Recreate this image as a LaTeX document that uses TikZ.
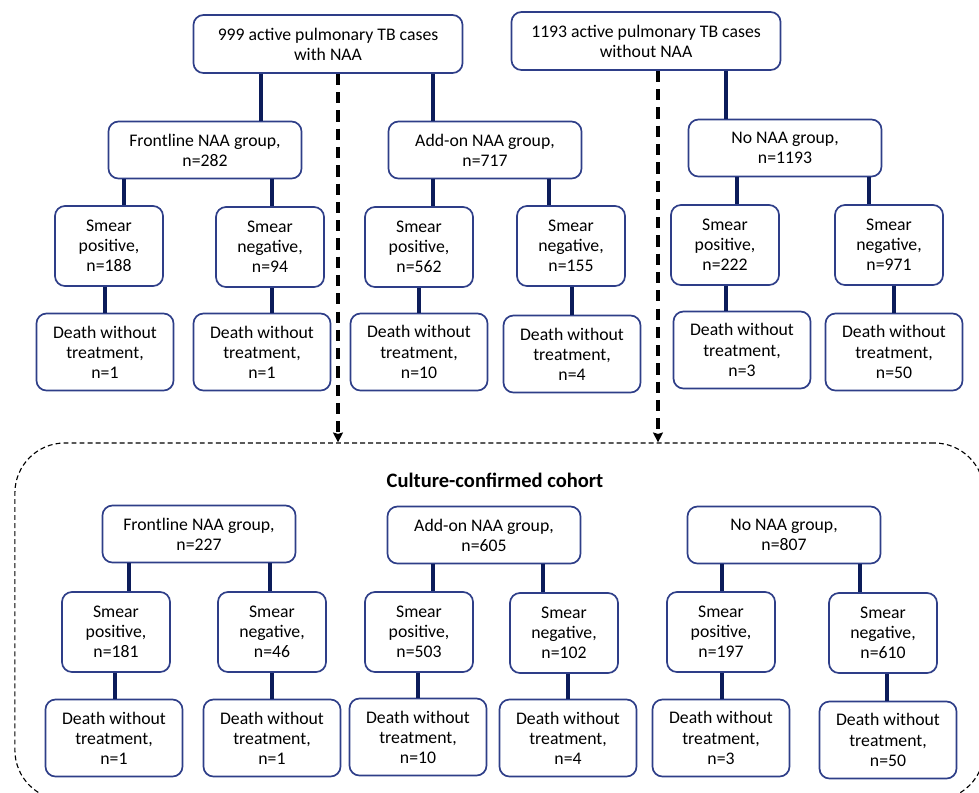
\documentclass[tikz,border=0pt]{standalone}
\usepackage{fontspec}
\setmainfont{Carlito}
\usetikzlibrary{arrows.meta}
\definecolor{boxline}{RGB}{46,62,136}
\definecolor{linkline}{RGB}{12,28,90}

\begin{document}
\begin{tikzpicture}[x=0.025cm, y=-0.025cm]
% Define styles
\tikzset{
    box/.style={rectangle, rounded corners=0.25cm, draw=boxline, line width=1.2pt, align=center, inner sep=0pt, font=\fontsize{12.6}{14.3}\selectfont},
    topbox/.style={box, minimum width=6.725cm, minimum height=1.45cm},
    groupbox/.style={box, minimum width=4.825cm, minimum height=1.425cm},
    smearbox/.style={box, minimum width=2.7cm, minimum height=2cm},
    deathbox/.style={box, minimum width=3.425cm, minimum height=1.925cm},
    link/.style={draw=linkline, line width=2.4pt},
    flow/.style={draw=black, line width=2.2pt, dash pattern=on 8pt off 5pt, -{Stealth[length=7pt, width=7pt, inset=1pt]}},
    cohortbox/.style={rectangle, rounded corners=1.25cm, draw=black, line width=0.8pt, dash pattern=on 3.5pt off 2.2pt, minimum width=24.225cm, minimum height=8.925cm},
    title/.style={font=\bfseries\fontsize{14.6}{17}\selectfont}
}

\useasboundingbox (0,0) rectangle (979,792);

% Top boxes
\node[topbox] (top1) at (328, 44) {999 active pulmonary TB cases\\with NAA};
\node[topbox] (top2) at (646, 41) {1193 active pulmonary TB cases\\without NAA};

% Groups, all cases
\node[groupbox] (fl1) at (205, 150) {Frontline NAA group,\\n=282};
\node[groupbox] (ad1) at (485, 150) {Add-on NAA group,\\n=717};
\node[groupbox] (no1) at (785, 148) {No NAA group,\\n=1193};

% Smear, all cases
\node[smearbox] (sp1) at (109, 246) {Smear\\positive,\\n=188};
\node[smearbox] (sn1) at (270, 247) {Smear\\negative,\\n=94};
\node[smearbox] (sp2) at (419, 247) {Smear\\positive,\\n=562};
\node[smearbox] (sn2) at (571, 246) {Smear\\negative,\\n=155};
\node[smearbox] (sp3) at (725, 245) {Smear\\positive,\\n=222};
\node[smearbox] (sn3) at (889, 245) {Smear\\negative,\\n=971};

% Deaths, all cases
\node[deathbox] (d1) at (105, 352) {Death without\\treatment,\\n=1};
\node[deathbox] (d2) at (262, 352) {Death without\\treatment,\\n=1};
\node[deathbox] (d3) at (419, 352) {Death without\\treatment,\\n=10};
\node[deathbox] (d4) at (572, 354) {Death without\\treatment,\\n=4};
\node[deathbox] (d5) at (742, 350) {Death without\\treatment,\\n=3};
\node[deathbox] (d6) at (894, 352) {Death without\\treatment,\\n=50};

% Culture-confirmed cohort frame
\node[cohortbox] (cohort) at (499.5, 621.5) {};
\node[title] (cctitle) at (495, 480) {Culture-confirmed cohort};

% Groups, culture-confirmed
\node[groupbox] (fl2) at (199, 534) {Frontline NAA group,\\n=227};
\node[groupbox] (ad2) at (484, 535) {Add-on NAA group,\\n=605};
\node[groupbox] (no2) at (784, 535) {No NAA group,\\n=807};

% Smear, culture-confirmed
\node[smearbox] (sp1b) at (116, 632) {Smear\\positive,\\n=181};
\node[smearbox] (sn1b) at (272, 632) {Smear\\negative,\\n=46};
\node[smearbox] (sp2b) at (419, 632) {Smear\\positive,\\n=503};
\node[smearbox] (sn2b) at (564, 633) {Smear\\negative,\\n=102};
\node[smearbox] (sp3b) at (721, 632) {Smear\\positive,\\n=197};
\node[smearbox] (sn3b) at (883, 633) {Smear\\negative,\\n=610};

% Deaths, culture-confirmed
\node[deathbox] (d1b) at (114, 738) {Death without\\treatment,\\n=1};
\node[deathbox] (d2b) at (272, 738) {Death without\\treatment,\\n=1};
\node[deathbox] (d3b) at (418, 737) {Death without\\treatment,\\n=10};
\node[deathbox] (d4b) at (568, 738) {Death without\\treatment,\\n=4};
\node[deathbox] (d5b) at (721, 738) {Death without\\treatment,\\n=3};
\node[deathbox] (d6b) at (888, 740) {Death without\\treatment,\\n=50};

% Connectors (parent/child/x)
\foreach \a/\b/\x in {top1/fl1/261, top1/ad1/433, top2/no1/726,
    fl1/sp1/124, fl1/sn1/272, ad1/sp2/433, ad1/sn2/549, no1/sp3/737, no1/sn3/869,
    sp1/d1/105, sn1/d2/272, sp2/d3/419, sn2/d4/572, sp3/d5/726, sn3/d6/894,
    fl2/sp1b/129, fl2/sn1b/270, ad2/sp2b/433, ad2/sn2b/543, no2/sp3b/722, no2/sn3b/860,
    sp1b/d1b/115, sn1b/d2b/272, sp2b/d3b/418, sn2b/d4b/568, sp3b/d5b/722, sn3b/d6b/887} {
    \coordinate (k) at (\x, 0);
    \draw[link] (\a.south -| k) -- (\b.north -| k);
}

% Dashed arrows into the cohort
\foreach \a/\x in {top1/338, top2/658} {
    \coordinate (k) at (\x, 0);
    \draw[flow] (\a.south -| k) -- (cohort.north -| k);
}

\end{tikzpicture}
\end{document}
